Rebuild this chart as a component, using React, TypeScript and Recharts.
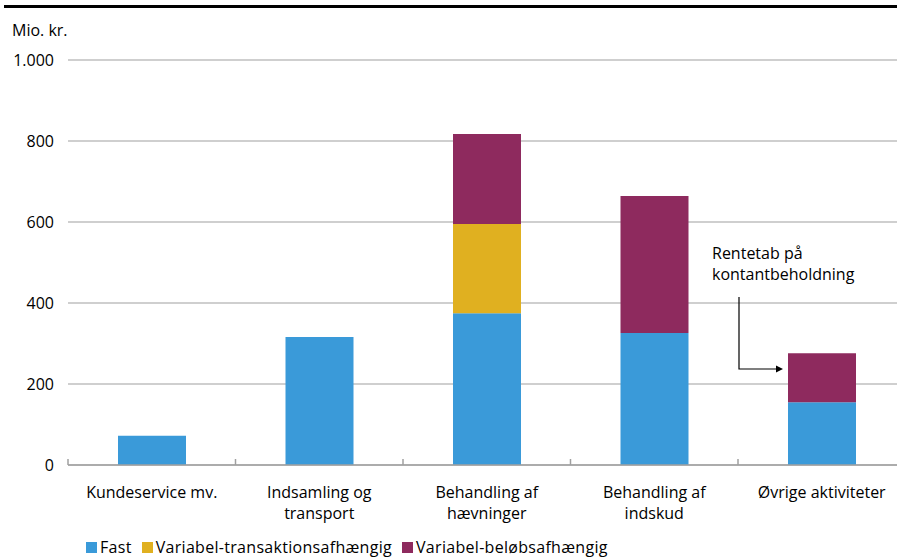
import React from 'react';
import { BarChart, Bar, XAxis, YAxis, CartesianGrid } from 'recharts';

// Omkostninger fordelt på aktivitet, mio. kr.
const categories = [
  'Kundeservice mv.',
  'Indsamling og\ntransport',
  'Behandling af\nhævninger',
  'Behandling af\nindskud',
  'Øvrige aktiviteter',
];
const fastValues = [72, 316, 375, 326, 155];
const transaktionValues = [0, 0, 220, 0, 0];
const beloebValues = [0, 0, 222, 338, 121];
const yTicks = [0, 200, 400, 600, 800, 1000];

const series = [
  { key: 'fast', name: 'Fast', color: '#3a9ad9' },
  { key: 'transaktion', name: 'Variabel-transaktionsafhængig', color: '#e0b020' },
  { key: 'beloeb', name: 'Variabel-beløbsafhængig', color: '#8e2a5e' },
];

const data = categories.map((name, i) => ({
  name,
  fast: fastValues[i],
  transaktion: transaktionValues[i],
  beloeb: beloebValues[i],
}));

const FONT = '"Open Sans", "Noto Sans", sans-serif';

// plot area layout
const PLOT_LEFT = 68;
const PLOT_TOP = 60;
const PLOT_BOTTOM = 465;
const CAT_WIDTH = 167.5;
const CHART_W = Math.ceil(PLOT_LEFT + CAT_WIDTH * categories.length) + 4;

const formatDk = (v: number) => String(v).replace(/\B(?=(\d{3})+(?!\d))/g, '.');

const CategoryTick = (props: any) => {
  const { x, y, payload } = props;
  const lines = String(payload.value).split('\n');
  return (
    <text x={x} y={y + 33} textAnchor="middle" fill="#000" fontSize={16} fontFamily={FONT}>
      {lines.map((line, i) => (
        <tspan key={i} x={x} dy={i === 0 ? 0 : 21}>
          {line}
        </tspan>
      ))}
    </text>
  );
};

const App = () => {
  return (
    <div style={{ position: 'absolute', left: 0, top: 0, width: 897, height: 559, overflow: 'hidden', background: '#fff', fontFamily: FONT }}>
      <div style={{ position: 'absolute', left: 4, right: 0, top: 5, height: 3, background: '#000' }} />
      <div style={{ position: 'absolute', left: 12, top: 19, fontSize: 16, lineHeight: '22px', color: '#000' }}>Mio. kr.</div>

      <BarChart
        width={CHART_W}
        height={559}
        data={data}
        margin={{ top: PLOT_TOP, right: CHART_W - PLOT_LEFT - CAT_WIDTH * categories.length, left: 0, bottom: 34 }}
        barSize={68}
      >
        <CartesianGrid vertical={false} stroke="#bfbfbf" strokeWidth={1.5} />
        <XAxis
          dataKey="name"
          height={559 - 34 - PLOT_BOTTOM}
          tickLine={false}
          tickSize={0}
          tickMargin={0}
          interval={0}
          axisLine={{ stroke: '#a0a0a0', strokeWidth: 1.5 }}
          tick={<CategoryTick />}
        />
        <YAxis
          width={PLOT_LEFT}
          domain={[0, 1000]}
          ticks={yTicks}
          axisLine={false}
          tickLine={false}
          tickSize={0}
          tickMargin={14}
          tickFormatter={formatDk}
          tick={{ fill: '#000', fontSize: 16, fontFamily: FONT }}
        />
        {series.map((s) => (
          <Bar key={s.key} dataKey={s.key} name={s.name} stackId="a" fill={s.color} isAnimationActive={false} />
        ))}
      </BarChart>

      {/* category boundary ticks and annotation arrow */}
      <svg width={897} height={559} style={{ position: 'absolute', left: 0, top: 0, pointerEvents: 'none' }}>
        {categories.map((_, i) => (
          <line
            key={i}
            x1={PLOT_LEFT + i * CAT_WIDTH}
            x2={PLOT_LEFT + i * CAT_WIDTH}
            y1={PLOT_BOTTOM - 6}
            y2={PLOT_BOTTOM}
            stroke="#a0a0a0"
            strokeWidth={1.5}
          />
        ))}
        <text x={712} fontSize={16} fontFamily={FONT} fill="#000">
          <tspan x={712} y={259}>Rentetab på</tspan>
          <tspan x={712} y={280}>kontantbeholdning</tspan>
        </text>
        <polyline points="739,297 739,369 776,369" fill="none" stroke="#000" strokeWidth={1.2} />
        <polygon points="776,365.5 783,369 776,372.5" fill="#000" />
      </svg>

      {/* legend */}
      <div style={{ position: 'absolute', left: 86, top: 536, display: 'flex', alignItems: 'center', fontSize: 16, lineHeight: '22px', letterSpacing: 0.3, color: '#000' }}>
        {series.map((s) => (
          <div key={s.key} style={{ display: 'flex', alignItems: 'center', marginRight: 10 }}>
            <span style={{ width: 11, height: 11, background: s.color, display: 'inline-block', marginRight: 3 }} />
            <span>{s.name}</span>
          </div>
        ))}
      </div>
    </div>
  );
};

export default App;
